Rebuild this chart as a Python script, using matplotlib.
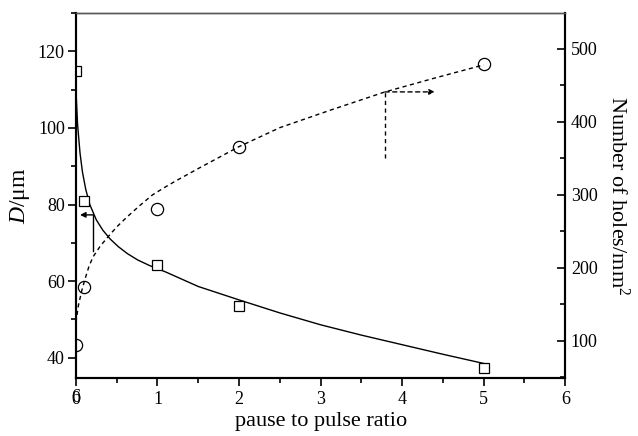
import matplotlib
matplotlib.use("Agg")
import matplotlib.pyplot as plt
from matplotlib.ticker import MultipleLocator

plt.rcParams['font.family'] = ['Liberation Serif', 'DejaVu Serif']
plt.rcParams['mathtext.fontset'] = 'custom'
plt.rcParams['mathtext.rm'] = 'Liberation Serif'
plt.rcParams['mathtext.it'] = 'Liberation Serif:italic'

# measured data
ratio_D = [0, 0.1, 1, 2, 5]
diameter = [115, 81, 64.2, 53.5, 37.4]
ratio_N = [0, 0.1, 1, 2, 5]
holes = [94, 174, 281, 366, 479]

# fitted curves
fitD_x = [0, 0.02, 0.05, 0.08, 0.12, 0.17, 0.25, 0.33, 0.42, 0.52,
          0.63, 0.76, 0.9, 1.1, 1.5, 2, 2.5, 3, 3.5, 4, 4.5, 5]
fitD_y = [110, 101, 93.5, 88.5, 84, 80, 76, 73.3, 71, 69,
          67.2, 65.5, 64.1, 62.4, 58.6, 55.1, 51.7, 48.6, 45.9, 43.4, 40.9, 38.5]
fitN_x = [0, 0.03, 0.07, 0.11, 0.16, 0.21, 0.3, 0.39, 0.5, 0.63, 0.78,
          0.94, 1.1, 1.24, 1.5, 2, 2.5, 3.12, 3.79, 4.4, 5]
fitN_y = [125, 148, 168, 184, 202, 215, 230, 242, 256, 270, 285,
          300, 311, 320, 336, 366, 392, 416, 441, 460, 478]

xticks = [0, 1, 2, 3, 4, 5, 6]

fig = plt.figure(figsize=(6.38, 4.36), dpi=100)
ax = fig.add_axes([0.119, 0.133, 0.767, 0.837])
ax2 = ax.twinx()

ax.plot(fitD_x, fitD_y, color='black', lw=1.0)
ax.plot(ratio_D, diameter, ls='none', marker='s', ms=7.8, mfc='white',
        mec='black', mew=0.9, zorder=5)
ax2.plot(fitN_x, fitN_y, color='black', lw=1.0, ls=(0, (3, 2.5)))
ax2.plot(ratio_N, holes, ls='none', marker='o', ms=8.8, mfc='none',
         mec='black', mew=0.9, zorder=5)

# indicator arrows
ax.plot([0.21, 0.21], [67.8, 77.3], color='black', lw=1.0)
ax.annotate('', xy=(0.05, 77.3), xytext=(0.21, 77.3),
            arrowprops=dict(arrowstyle='-|>', color='black', lw=1.0,
                            mutation_scale=8, shrinkA=0, shrinkB=0))
ax2.plot([3.79, 3.79], [351, 441], color='black', lw=1.0, ls=(0, (3, 2.5)))
ax2.annotate('', xy=(4.4, 441), xytext=(3.79, 441),
             arrowprops=dict(arrowstyle='-|>', color='black', lw=1.0,
                             ls=(0, (3, 2.5)), mutation_scale=8,
                             shrinkA=0, shrinkB=0))

ax.set_xlim(0, 6)
ax.set_ylim(34.7, 130)
ax2.set_ylim(49, 549)

ax.set_xticks(xticks)
ax.xaxis.set_minor_locator(MultipleLocator(0.5))
ax.set_yticks([40, 60, 80, 100, 120])
ax.yaxis.set_minor_locator(MultipleLocator(10))
ax2.set_yticks([100, 200, 300, 400, 500])
ax2.yaxis.set_minor_locator(MultipleLocator(50))

ax.tick_params(axis='x', which='major', direction='out', length=6, width=1.2,
               labelsize=13, pad=3)
ax.tick_params(axis='x', which='minor', direction='out', length=3.5, width=1.2)
ax.tick_params(axis='y', which='major', direction='out', length=6, width=1.2,
               labelsize=13, pad=2)
ax.tick_params(axis='y', which='minor', direction='out', length=3.5, width=1.2)
ax2.tick_params(axis='y', which='major', direction='in', length=6, width=1.2,
                labelsize=13, pad=4)
ax2.tick_params(axis='y', which='minor', direction='in', length=3.5, width=1.2)

for a in (ax, ax2):
    for s in ('left', 'right', 'bottom'):
        a.spines[s].set_linewidth(1.5)
    a.spines['top'].set_linewidth(1.0)
    a.spines['top'].set_color('#555555')

# overlapping "6" on the "0" tick label
ax.text(0, -0.03, '6', transform=ax.get_xaxis_transform(), ha='center',
        va='top', fontsize=13)

ax.set_xlabel('pause to pulse ratio', fontsize=16, labelpad=3)
ax.set_ylabel(r'$\mathit{D}$/μm', fontsize=17, labelpad=4)
ax2.set_ylabel('Number of holes/mm$^2$', fontsize=16, rotation=270,
               labelpad=23)

fig.savefig('out.png', dpi=100)
